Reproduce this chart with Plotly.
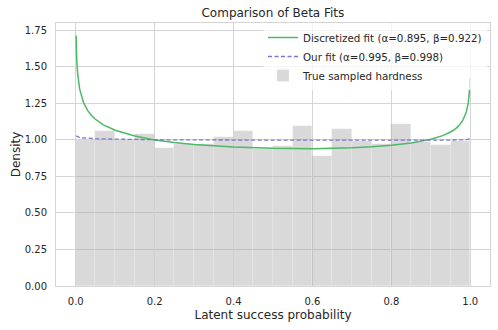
import plotly.graph_objects as go

# Histogram of true sampled hardness (density per bin)
bin_left = [0.00, 0.05, 0.10, 0.15, 0.20, 0.25, 0.30, 0.35, 0.40, 0.45,
            0.50, 0.55, 0.60, 0.65, 0.70, 0.75, 0.80, 0.85, 0.90, 0.95]
bin_width = 0.05
hist_density = [1.00, 1.06, 1.00, 1.041, 0.943, 0.970, 0.970, 1.017, 1.058, 0.940,
                0.959, 1.097, 0.890, 1.074, 0.990, 0.975, 1.108, 0.986, 0.966, 0.993]

# Discretized fit curve
disc_x = [0.001, 0.002, 0.003, 0.005, 0.01, 0.02, 0.03, 0.04, 0.05, 0.07, 0.10,
          0.15, 0.20, 0.25, 0.30, 0.40, 0.50, 0.60, 0.70, 0.75, 0.80, 0.85,
          0.90, 0.93, 0.95, 0.96, 0.97, 0.98, 0.99, 0.995, 0.997, 0.998, 0.999]
disc_y = [1.714, 1.594, 1.528, 1.448, 1.347, 1.253, 1.202, 1.167, 1.141, 1.103, 1.066,
          1.026, 1.000, 0.982, 0.968, 0.951, 0.942, 0.940, 0.946, 0.953, 0.963, 0.979,
          1.004, 1.029, 1.054, 1.071, 1.094, 1.128, 1.190, 1.255, 1.306, 1.347, 1.422]

# Our fit curve
our_x = [0.001, 0.01, 0.05, 0.20, 0.50, 0.80, 0.95, 0.99, 0.999]
our_y = [1.028, 1.016, 1.008, 1.001, 0.998, 0.997, 0.999, 1.002, 1.007]

names = ["Discretized fit (α=0.895, β=0.922)", "Our fit (α=0.995, β=0.998)",
         "True sampled hardness"]

x_ticks = [0.0, 0.2, 0.4, 0.6, 0.8, 1.0]
y_ticks = [0.00, 0.25, 0.50, 0.75, 1.00, 1.25, 1.50, 1.75]

font = "DejaVu Sans, Verdana, sans-serif"
grid = "#d4d4d4"

fig = go.Figure()
fig.add_trace(go.Bar(
    x=[b + bin_width / 2 for b in bin_left], y=hist_density, width=bin_width,
    marker=dict(color="rgba(170,170,170,0.45)",
                line=dict(color="rgba(255,255,255,0.3)", width=0.6)),
    name=names[2], legendrank=3))
fig.add_trace(go.Scatter(
    x=disc_x, y=disc_y, mode="lines", name=names[0], legendrank=1,
    line=dict(color="#4db865", width=1.5, simplify=False)))
fig.add_trace(go.Scatter(
    x=our_x, y=our_y, mode="lines", name=names[1], legendrank=2,
    line=dict(color="#7c78c8", width=1.3, dash="4px,2.5px")))

fig.update_layout(
    width=498, height=330,
    margin=dict(l=56, r=8, t=23, b=44),
    paper_bgcolor="white", plot_bgcolor="white",
    font=dict(family=font, size=10, color="#262626"),
    title=dict(text="Comparison of Beta Fits", x=0.548, xanchor="center",
               y=0.962, yanchor="middle", font=dict(size=12, color="#262626")),
    bargap=0,
    showlegend=True,
    legend=dict(x=0.477, xanchor="left", y=1.0, yanchor="top",
                bgcolor="rgba(255,255,255,0.75)", borderwidth=0,
                font=dict(size=10.3, color="#262626"),
                tracegroupgap=0, itemwidth=30),
)
fig.update_xaxes(
    range=[-0.05, 1.05], tickvals=x_ticks, ticktext=[f"{v:.1f}" for v in x_ticks],
    showgrid=True, gridcolor=grid, gridwidth=1, automargin=False,
    showline=True, linecolor=grid, mirror=True, linewidth=1,
    zeroline=False, ticks="", ticklabelstandoff=6,
    title=dict(text="Latent success probability", font=dict(size=12), standoff=4))
fig.update_yaxes(
    range=[0, 1.80], tickvals=y_ticks, ticktext=[f"{v:.2f}" for v in y_ticks],
    showgrid=True, gridcolor=grid, gridwidth=1, automargin=False,
    showline=True, linecolor=grid, mirror=True, linewidth=1,
    zeroline=False, ticks="", ticklabelstandoff=6,
    title=dict(text="Density", font=dict(size=12), standoff=1))

fig.write_html("out.html", config={"displayModeBar": False},
               post_script="document.body.style.margin='0';document.body.style.padding='0';")
